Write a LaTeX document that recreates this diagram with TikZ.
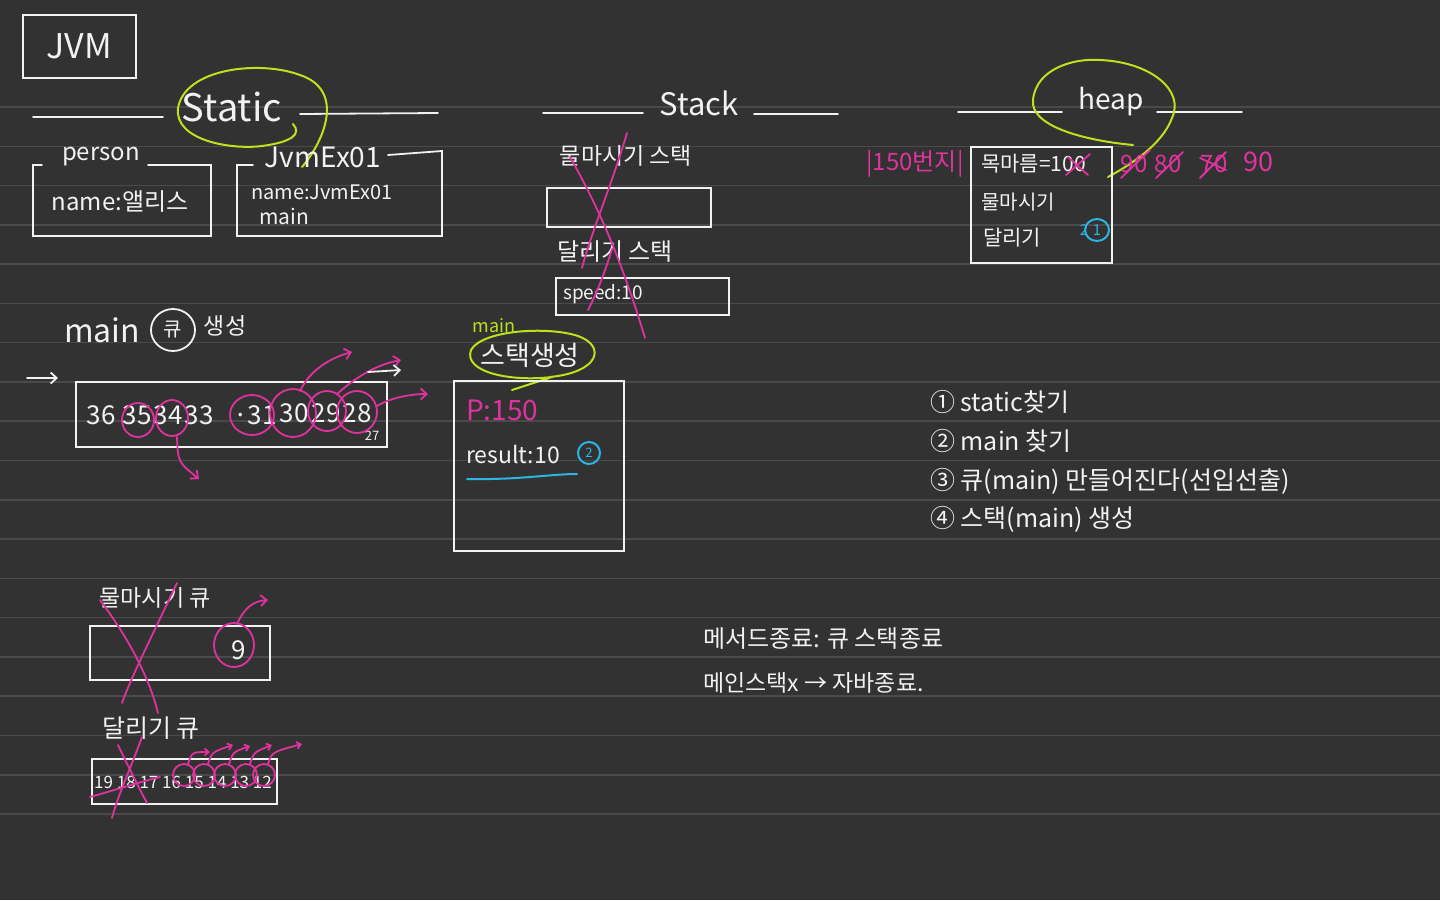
\documentclass[tikz,border=0pt]{standalone}
\usepackage{fontspec}
\setmainfont{Noto Sans CJK KR}
\usetikzlibrary{arrows.meta}
\definecolor{bg}{HTML}{323232}
\definecolor{rulec}{HTML}{4A4A4A}
\definecolor{mag}{HTML}{E0329E}
\definecolor{lime}{HTML}{BCE21E}
\definecolor{cyanish}{HTML}{2CB4E2}
\definecolor{chalk}{HTML}{F2F2F2}
\newcommand{\fs}[1]{\fontsize{#1}{#1}\selectfont}
\tikzset{
  txt/.style={text=chalk, inner sep=0pt},
  wbox/.style={draw=chalk, line width=1.8pt, inner sep=0pt},
  wline/.style={draw=chalk, line width=1.8pt, line cap=round},
  mstroke/.style={draw=mag, line width=1.8pt, line cap=round},
  gstroke/.style={draw=lime, line width=2pt, line cap=round},
  cstroke/.style={draw=cyanish, line width=2pt, line cap=round},
  barb/.style={-{Straight Barb[length=6pt,width=11pt]}},
}
\begin{document}
\begin{tikzpicture}[x=1pt,y=-1pt]
\fill[bg] (0,0) rectangle (1440,900);
\useasboundingbox (0,0) rectangle (1440,900);
\foreach \k in {0,...,18} \draw[rulec, line width=1.5pt] ({0},{107+39.28*\k}) -- ({1440},{107+39.28*\k});

% JVM
\node[wbox, anchor=north west, minimum width=113pt, minimum height=63pt] (jvmbox) at (22,14) {};
\node[txt, font=\fs{34}] (jvm) at (jvmbox.center) {JVM};

% headers
\node[txt, font=\fs{38}] (static) at (232,107) {Static};
\draw[wline] (33,117) -- (163,117);
\draw[wline] (300,114) -- (438,113);
\node[txt, font=\fs{31}] (stack) at (699,103) {Stack};
\draw[wline] (543,113) -- (643,113);
\draw[wline] (754,114) -- (838,114);
\node[txt, font=\fs{28}] (heap) at (1111,102) {heap};
\draw[wline] (958,112) -- (1062,112);
\draw[wline] (1157,112) -- (1242,112);

% green loops
\draw[gstroke] (302,167) .. controls (325,140) and (345,90) .. (300,75) .. controls (260,60) and (185,68) .. (178,108) .. controls (174,140) and (230,150) .. (262,146) .. controls (292,142) and (302,134) .. (293,124);
\draw[gstroke] (1133,145) .. controls (1080,140) and (1030,125) .. (1033,100) .. controls (1036,68) and (1075,58) .. (1100,60) .. controls (1150,62) and (1185,90) .. (1172,118) .. controls (1162,145) and (1130,165) .. (1108,177);

% static classes
\node[txt, font=\fs{24}] (person) at (101,157) {person};
\draw[wline] (42,165) -- (33,165) -- (33,236) -- (211,236) -- (211,165) -- (148,165);
\node[txt, font=\fs{24}] (pname) at (120,202) {name:앨리스};
\node[txt, font=\fs{28}] (jvmex) at (323,157) {JvmEx01};
\draw[wline] (253,165) -- (237,165) -- (237,236) -- (442,236) -- (442,151) -- (388,155);
\node[txt, font=\fs{20}, anchor=west] (jname) at (251,192) {name:JvmEx01};
\node[txt, font=\fs{21}, anchor=west] (jmain) at (259,216) {main};

% stack column
\node[txt, font=\fs{23}] (mstack) at (626,156) {물마시기 스택};
\node[wbox, anchor=north west, minimum width=164pt, minimum height=39pt] (mbox) at (546,187) {};
\node[txt, font=\fs{24}] (rstack) at (615,252) {달리기 스택};
\node[wbox, anchor=north west, minimum width=173pt, minimum height=37pt] (rbox) at (555,277) {};
\node[txt, font=\fs{19}, anchor=west] (speed) at (563,294) {speed:10};
\draw[mstroke] (627,133) .. controls (610,190) and (592,230) .. (582,268);
\draw[mstroke] (570,157) .. controls (600,210) and (622,262) .. (645,338);
\draw[mstroke] (612,249) .. controls (605,272) and (596,295) .. (588,310);

% heap
\node[txt, font=\fs{24}, text=mag] (addr) at (915,164) {|150번지|};
\node[wbox, anchor=north west, minimum width=141pt, minimum height=116pt] (hbox) at (970,146) {};
\node[txt, font=\fs{21}, anchor=west] (thirst) at (981,164) {목마름=100};
\node[txt, font=\fs{20}, anchor=west] (hdrink) at (981,202) {물마시기};
\node[txt, font=\fs{21}, anchor=west] (hrun) at (983,238) {달리기};
\draw[mstroke] (1066,175) -- (1090,154);
\draw[mstroke] (1068,157) -- (1088,175);
\node[txt, font=\fs{15}, text=cyanish] (h2) at (1084,230) {2};
\draw[cstroke] (1097,230) ellipse [x radius=12, y radius=11];
\node[txt, font=\fs{15}, text=cyanish] (h1) at (1097,230) {1};
\node[txt, font=\fs{24}, text=mag] (v1) at (1134,164) {90};
\node[txt, font=\fs{24}, text=mag] (v2) at (1168,164) {80};
\node[txt, font=\fs{24}, text=mag] (v3) at (1214,164) {70};
\node[txt, font=\fs{27}, text=mag] (v4) at (1258,162) {90};
\draw[mstroke] (1121,178) -- (1150,150);
\draw[mstroke] (1156,178) -- (1183,152);
\draw[mstroke] (1200,178) -- (1226,152);
\draw[mstroke] (1200,158) -- (1226,170);

% main queue
\node[txt, font=\fs{32}] (qmain) at (102,330) {main};
\node[txt, font=\fs{20}] (qkyu) at (173,330) {큐};
\draw[wline] (173,330) ellipse [x radius=22, y radius=21];
\node[txt, font=\fs{23}] (qmake) at (225,326) {생성};
\draw[wline, barb] (27,378) -- (58,378);
\node[wbox, anchor=north west, minimum width=311pt, minimum height=65pt] (qbox) at (75,381) {};
\node[txt, font=\fs{26}] (n36) at (101,415) {36};
\node[txt, font=\fs{26}] (n35) at (137,415) {35};
\node[txt, font=\fs{26}] (n34) at (168,415) {34};
\node[txt, font=\fs{26}] (n33) at (199,415) {33};
\node[txt, font=\fs{26}] (n31) at (255,415) {·31};
\node[txt, font=\fs{26}] (n30) at (294,413) {30};
\node[txt, font=\fs{26}] (n29) at (326,413) {29};
\node[txt, font=\fs{26}] (n28) at (357,413) {28};
\node[txt, font=\fs{13}] (n27) at (372,436) {27};
\draw[mstroke] (138,420) ellipse [x radius=16, y radius=17];
\draw[mstroke] (172,418) ellipse [x radius=16, y radius=18];
\draw[mstroke] (252,415) ellipse [x radius=22, y radius=20];
\draw[mstroke] (293,413) ellipse [x radius=23, y radius=24];
\draw[mstroke] (327,411) ellipse [x radius=19, y radius=20];
\draw[mstroke] (357,412) ellipse [x radius=20, y radius=21];
\draw[mstroke, barb] (177,437) .. controls (178,462) .. (199,479);
\draw[mstroke, barb] (300,391) .. controls (310,370) and (330,358) .. (352,352);
\draw[mstroke, barb] (337,394) .. controls (355,378) and (375,365) .. (401,360);
\draw[mstroke, barb] (377,406) .. controls (390,398) and (410,394) .. (428,394);
\draw[wline, barb] (368,372) -- (401,370);

% main stack
\node[txt, font=\fs{18}, text=lime] (gmain) at (494,326) {main};
\node[txt, font=\fs{27}] (smake) at (530,355) {스택생성};
\draw[gstroke] (550,377) .. controls (600,372) and (606,346) .. (578,336) .. controls (548,326) and (482,330) .. (471,350) .. controls (463,372) and (510,382) .. (552,377) -- (512,390);
\node[wbox, anchor=north west, minimum width=170pt, minimum height=170pt] (sbox) at (453,380) {};
\node[txt, font=\fs{28}, text=mag, anchor=west] (p150) at (466,410) {P:150};
\node[txt, font=\fs{23}, anchor=west] (result) at (466,454) {result:10};
\draw[cstroke] (589,453) ellipse [x radius=11, y radius=11];
\node[txt, font=\fs{13}, text=cyanish] (r2) at (589,453) {2};
\draw[cstroke] (467,479) .. controls (520,480) and (550,474) .. (577,474);

% steps
\node[txt, font=\fs{25}, anchor=west] (s1) at (930,402) {① static찾기};
\node[txt, font=\fs{25}, anchor=west] (s2) at (930,441) {② main 찾기};
\node[txt, font=\fs{25}, anchor=west] (s3) at (930,481) {③ 큐(main) 만들어진다(선입선출)};
\node[txt, font=\fs{25}, anchor=west] (s4) at (930,519) {④ 스택(main) 생성};

% drink queue
\node[txt, font=\fs{23}] (dq) at (155,598) {물마시기 큐};
\node[wbox, anchor=north west, minimum width=180pt, minimum height=54pt] (dbox) at (89,625) {};
\node[txt, font=\fs{26}] (d9) at (239,650) {9};
\draw[mstroke] (234,645) ellipse [x radius=20, y radius=22];
\draw[mstroke, barb] (237,624) .. controls (245,606) and (255,601) .. (268,600);
\draw[mstroke] (177,583) .. controls (150,640) and (130,680) .. (122,703);
\draw[mstroke] (100,600) .. controls (130,640) and (150,680) .. (158,713);

% run queue
\node[txt, font=\fs{25}] (rq) at (151,728) {달리기 큐};
\node[wbox, anchor=north west, minimum width=185pt, minimum height=45pt] (rqbox) at (91,758) {};
\node[txt, font=\fs{17}] (rnums) at (183,782) {19 18 17 16 15 14 13 12};
\draw[mstroke] (142,737) .. controls (130,770) and (118,795) .. (112,818);
\draw[mstroke] (118,745) .. controls (130,770) and (140,790) .. (147,803);
\draw[mstroke] (90,797) .. controls (115,790) and (140,782) .. (160,777);
\foreach \cx/\ex/\ey in {184/210/752, 204/233/745, 225/250/746, 246/272/745, 264/302/744}{
  \draw[mstroke] (\cx,775) circle [radius=11];
  \draw[mstroke, -{Straight Barb[length=4pt,width=7pt]}] ({\cx+4},764) .. controls ({\cx+8},752) .. (\ex,\ey);
}

% notes
\node[txt, font=\fs{24}, anchor=west] (end1) at (703,639) {메서드종료: 큐 스택종료};
\node[txt, font=\fs{23}, anchor=west] (end2) at (703,683) {메인스택x → 자바종료.};
\end{tikzpicture}
\end{document}
